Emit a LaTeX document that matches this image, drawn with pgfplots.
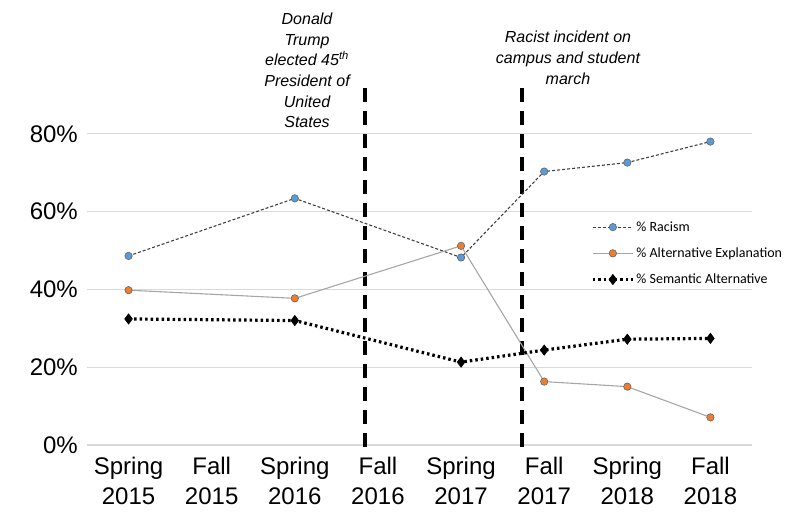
\documentclass[border=0pt]{standalone}
\usepackage{fontspec}
\setmainfont{Liberation Sans}
\newfontfamily\legfont{Carlito}
\usepackage{pgfplots}
\pgfplotsset{compat=1.18}
\definecolor{racblue}{HTML}{5B9BD5}
\definecolor{altorange}{HTML}{ED7D31}
\definecolor{gridgray}{HTML}{D9D9D9}
\definecolor{altline}{HTML}{A6A6A6}

\begin{document}
\begin{tikzpicture}[x=1pt,y=1pt]
\useasboundingbox (0,0) rectangle (786,516);
\begin{axis}[
  at={(87pt,71pt)}, anchor=south west,
  scale only axis, width=665pt, height=389pt,
  xmin=0.5, xmax=8.5, ymin=0, ymax=100,
  clip=false,
  xtick={1,...,8},
  xticklabels={{Spring\\2015},{Fall\\2015},{Spring\\2016},{Fall\\2016},
               {Spring\\2017},{Fall\\2017},{Spring\\2018},{Fall\\2018}},
  xticklabel style={align=center, anchor=north, inner sep=0pt, yshift=-12pt,
                    font=\fontsize{24}{30}\selectfont},
  ytick={0,20,40,60,80},
  yticklabel={\pgfmathprintnumber{\tick}\%},
  /pgf/number format/assume math mode=true,
  yticklabel style={anchor=east, inner sep=0pt, xshift=-9pt,
                    font=\fontsize{24}{28}\selectfont},
  ymajorgrids, grid style={draw=gridgray, line width=1.2pt},
  axis line style={draw=none}, major tick length=0pt,
  legend style={at={(0.758,0.580)}, anchor=north west, draw=none, fill=none,
                font=\legfont\fontsize{14}{15}\selectfont,
                row sep=11pt, inner sep=0pt,
                nodes={inner sep=2pt}},
  legend cell align=left,
  legend image code/.code={\draw[mark repeat=2,mark phase=2,#1]
      plot coordinates {(0pt,0pt) (20pt,0pt) (40pt,0pt)};},
]
% event markers
\addplot[forget plot, black, line width=4pt, dash pattern=on 14pt off 9pt]
  coordinates {(3.845,-0.5) (3.845,93.8)};
\addplot[forget plot, black, line width=4pt, dash pattern=on 14pt off 9pt]
  coordinates {(5.73,-0.5) (5.73,91.8)};

\addplot[black!75, line width=1.1pt, dash pattern=on 3pt off 2pt,
  mark=*, mark size=3.7pt,
  mark options={solid, fill=racblue, draw=black!60, line width=0.6pt}]
  coordinates {(1,48.6) (3,63.4) (5,48.2) (6,70.3) (7,72.6) (8,78.0)};
\addplot[altline, line width=1.1pt,
  mark=*, mark size=3.7pt,
  mark options={solid, fill=altorange, draw=black!60, line width=0.6pt}]
  coordinates {(1,39.8) (3,37.7) (5,51.2) (6,16.3) (7,15.0) (8,7.1)};
\addplot[black, line width=3.2pt, dash pattern=on 2.5pt off 3pt,
  mark=diamond*, mark size=5pt,
  mark options={solid, fill=black, draw=black, line width=0.8pt}]
  coordinates {(1,32.4) (3,32.0) (5,21.3) (6,24.4) (7,27.2) (8,27.4)};
\legend{\% Racism, \% Alternative Explanation, \% Semantic Alternative}

\node[align=center, font=\itshape\fontsize{16}{20.7}\selectfont]
  at (axis cs:3.147,96.3)
  {Donald\\Trump\\elected 45\textsuperscript{th}\\President of\\United\\States};
\node[align=center, font=\itshape\fontsize{16}{20.7}\selectfont]
  at (axis cs:6.286,99.5)
  {Racist incident on\\campus and student\\march};
\end{axis}
\end{tikzpicture}
\end{document}
